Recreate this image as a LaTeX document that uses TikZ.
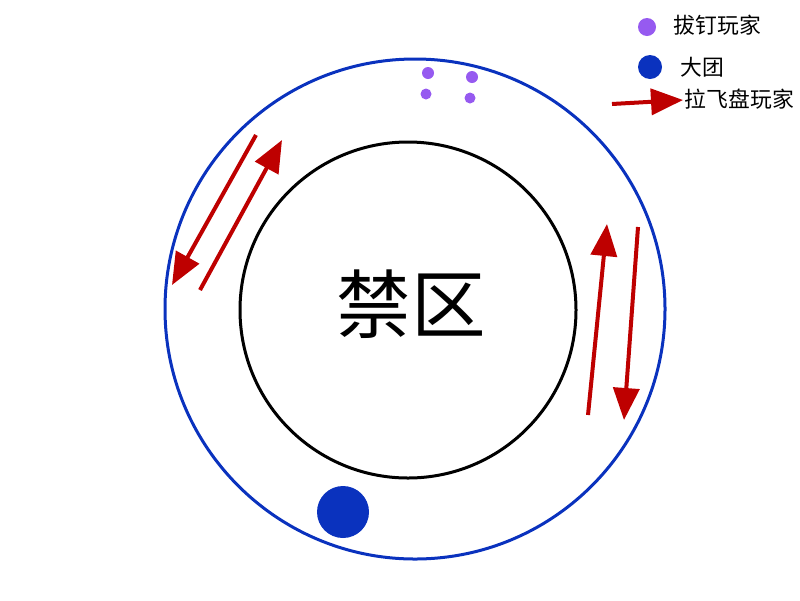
\documentclass[tikz,border=0pt]{standalone}
\usepackage{fontspec}
\setmainfont{Noto Sans CJK SC}
\usepackage{tikz}
\usetikzlibrary{arrows.meta}
\definecolor{ringblue}{RGB}{10,50,190}
\definecolor{pinpurple}{RGB}{150,90,240}
\definecolor{frisbeered}{RGB}{190,0,0}
\tikzset{
	pass/.style={color=frisbeered,line width=0.1cm,-{Triangle[length=0.8cm,width=0.65cm]}},
	legendtext/.style={anchor=west,font=\fontsize{15.5}{18}\selectfont}
}

\begin{document}
\begin{tikzpicture}[x=0.025cm,y=-0.025cm]
		\useasboundingbox (0,0) rectangle (800,600);
		\draw [color=ringblue,line width=0.075cm] (415,309) circle (250);
		\draw [color=black,line width=0.075cm] (408,310) circle (168);
		\node (zone) at (411,304) {\fontsize{53}{60}\selectfont 禁区};
		% pin players
		\fill [color=pinpurple] (428,73) circle (6);
		\fill [color=pinpurple] (472,77) circle (6);
		\fill [color=pinpurple] (426,94) circle (5.5);
		\fill [color=pinpurple] (470,98) circle (5.5);
		% big group
		\fill [color=ringblue] (343,512) circle (26);
		% frisbee passes
		\coordinate (l1) at (256,135);
		\coordinate (l2) at (172,285);
		\coordinate (l3) at (200,290);
		\coordinate (l4) at (282,140);
		\coordinate (r1) at (588,415);
		\coordinate (r2) at (607,224);
		\coordinate (r3) at (638,227);
		\coordinate (r4) at (624,420);
		\draw [pass] (l1) -- (l2);
		\draw [pass] (l3) -- (l4);
		\draw [pass] (r1) -- (r2);
		\draw [pass] (r3) -- (r4);
		% legend
		\fill [color=pinpurple] (647,27) circle (9);
		\node [legendtext] (pinlabel) at (669,25) {拔钉玩家};
		\fill [color=ringblue] (650,67) circle (12);
		\node [legendtext] (grouplabel) at (676,67) {大团};
		\coordinate (k1) at (612,104);
		\coordinate (k2) at (683,100);
		\draw [pass] (k1) -- (k2);
		\node [legendtext] (passlabel) at (680,99) {拉飞盘玩家};
	\end{tikzpicture}
\end{document}
